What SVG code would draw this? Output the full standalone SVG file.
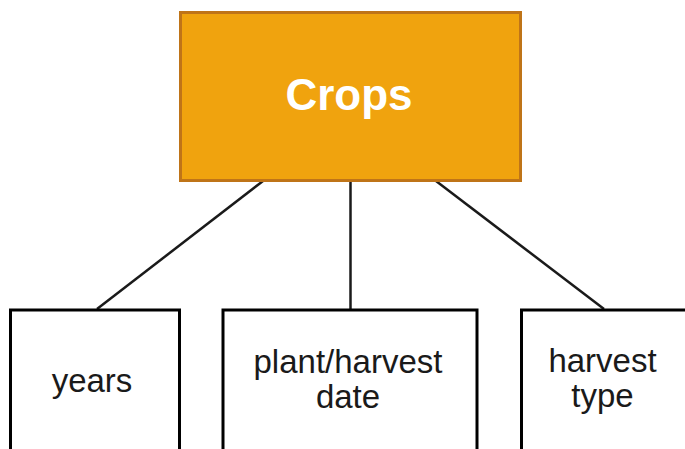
<svg xmlns="http://www.w3.org/2000/svg" width="685" height="449" viewBox="0 0 685 449">
  <style>
    .box { fill: #ffffff; stroke: #000000; stroke-width: 3; }
    .root { fill: #f0a30e; stroke: #bf7418; stroke-width: 3; }
    .lbl { font-family: "Liberation Sans", Arial, sans-serif; font-size: 33px; fill: #1a1a1a; text-anchor: middle; }
    .title { font-family: "Liberation Sans", Arial, sans-serif; font-size: 44px; font-weight: bold; fill: #ffffff; text-anchor: middle; }
    .edge { stroke: #1a1a1a; stroke-width: 2.5; fill: none; }
  </style>
  <rect width="685" height="449" fill="#ffffff"/>
  <g id="connectors">
    <line class="edge" x1="263" y1="181" x2="97" y2="309"/>
    <line class="edge" x1="350.5" y1="181" x2="350.5" y2="309"/>
    <line class="edge" x1="436" y1="181" x2="604" y2="309"/>
  </g>
  <g id="crops">
    <rect class="root" x="180.5" y="12.5" width="340" height="168"/>
    <text class="title" x="349" y="110">Crops</text>
  </g>
  <g id="years">
    <rect class="box" x="10.5" y="310" width="169" height="160"/>
    <text class="lbl" x="92" y="392">years</text>
  </g>
  <g id="plant-harvest-date">
    <rect class="box" x="223" y="310" width="254" height="160"/>
    <text class="lbl" x="348" y="373">plant/harvest</text>
    <text class="lbl" x="348" y="408">date</text>
  </g>
  <g id="harvest-type">
    <rect class="box" x="521.5" y="310" width="200" height="160"/>
    <text class="lbl" x="602.5" y="372">harvest</text>
    <text class="lbl" x="602.5" y="407">type</text>
  </g>
</svg>
